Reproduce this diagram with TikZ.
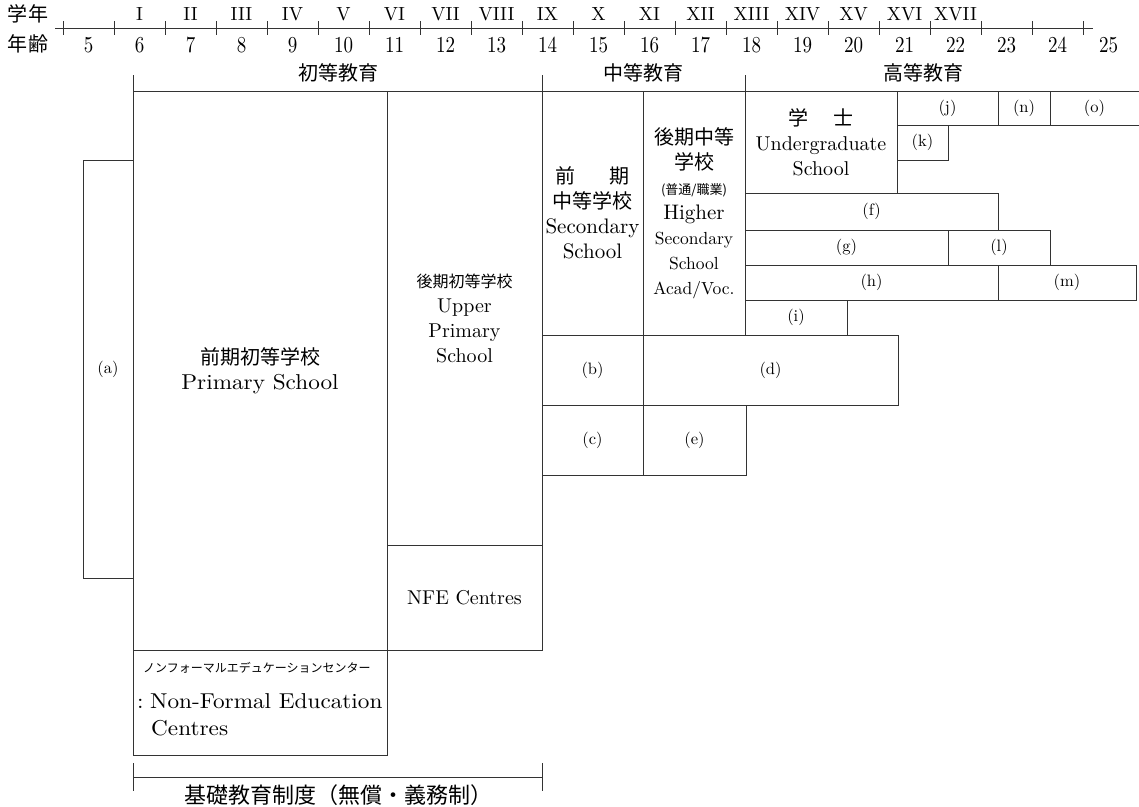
\documentclass[tikz,border=0pt]{standalone}
\usepackage{graphicx}
\usepackage{fontspec}
\setmainfont{lmroman10-regular.otf}[BoldFont=lmroman10-bold.otf,ItalicFont=lmroman10-italic.otf]
\newfontfamily\jp{Noto Sans CJK JP}
\newcommand\fsz[2]{\fontsize{#1}{#2}\selectfont}
\newcommand\tall[1]{\scalebox{1}[1.2]{#1}}
\newcommand\wide[1]{\scalebox{1.08}[1]{#1}}
\newcommand\cell[7]{%
  \draw[ln] (#2,#3) rectangle (#4,#5);
  \node[#6] (#1) at ({(#2+#4)/2},{(#3+#5)/2}) {#7};}
\begin{document}
\begin{tikzpicture}[x=1pt,y=-1pt,
  ln/.style={draw=black!80,line width=1pt},
  lbl/.style={inner sep=0pt,font=\fsz{16.5}{18}},
  txt/.style={inner sep=0pt,align=center,font=\fsz{20}{25}},
  ax/.style={inner sep=0pt,font=\fsz{19}{24}},
  jpl/.style={inner sep=0pt,font=\jp\fsz{20}{24}}]
\useasboundingbox (0,0) rectangle (1139,806);
\fill[white] (0,0) rectangle (1139,806);

% ---- axis ----
\node[jpl] (gakunen) at (28,14) {学年};
\node[jpl] (nenrei) at (28,44) {年齢};
\draw[ln] (55,28) -- (1093,28);
\foreach \k in {0,...,20} \draw[ln] ({63+51*\k},21) -- ({63+51*\k},35);
\foreach \a in {5,...,25} \node[ax] (age\a) at ({63+51*(\a-5)+25.5},45) {\tall{\a}};
\foreach \r [count=\i] in {I,II,III,IV,V,VI,VII,VIII,IX,X,XI,XII,XIII,XIV,XV,XVI,XVII}
  \node[ax] (yr\i) at ({63+51*\i+25.5},14) {\r};

% ---- level headings ----
\node[jpl] (h1) at (338,73) {初等教育};
\node[jpl] (h2) at (643,73) {中等教育};
\node[jpl] (h3) at (923,73) {高等教育};
\draw[ln] (133,91) -- (1139,91);
\draw[ln] (133,75) -- (133,91);
\draw[ln] (542,75) -- (542,91);
\draw[ln] (745,75) -- (745,91);

% ---- boxes ----
\cell{a}{83}{160}{133}{578}{lbl}{(a)}
\cell{ps}{133}{91}{387}{650}{txt}{{\jp 前期初等学校}\\{\fsz{21.5}{25}\wide{Primary School}}}
\cell{up}{387}{91}{542}{545}{txt}{{\jp\fsz{16}{25}後期初等学校}\\Upper\\Primary\\School}
\cell{nfe}{387}{545}{542}{650}{txt}{NFE Centres}
\draw[ln] (133,650) rectangle (387,755);
\cell{ls}{542}{91}{643}{335}{txt}{{\jp 前\hspace{1.75em}期}\\{\jp 中等学校}\\{\fsz{21}{25}Secondary}\\{\fsz{21}{25}School}}
\cell{hs}{643}{91}{745}{335}{txt}{{\jp 後期中等}\\{\jp 学校}\\{\jp\fsz{13}{14}(普通/職業)}\\{\fsz{21}{25}Higher}\\{\fsz{17.5}{25}Secondary}\\{\fsz{17.5}{25}School}\\{\fsz{17.5}{25}Acad/Voc.}}
\cell{ug}{745}{91}{897}{193}{txt}{{\jp 学\hspace{1.25em}士}\\Undergraduate\\School}
\cell{j}{897}{91}{998}{125}{lbl}{(j)}
\cell{n}{998}{91}{1050}{125}{lbl}{(n)}
\draw[ln] (1050,91) -- (1050,125) -- (1139,125);
\node[lbl] (o) at (1094.5,108) {(o)};
\cell{k}{897}{125}{948}{160}{lbl}{(k)}
\cell{f}{745}{193}{998}{230}{lbl}{(f)}
\cell{g}{745}{230}{948}{265}{lbl}{(g)}
\cell{l}{948}{230}{1050}{265}{lbl}{(l)}
\cell{h}{745}{265}{998}{300}{lbl}{(h)}
\cell{m}{998}{265}{1136}{300}{lbl}{(m)}
\cell{i}{745}{300}{847}{335}{lbl}{(i)}
\cell{b}{542}{335}{643}{405}{lbl}{(b)}
\cell{d}{643}{335}{898}{405}{lbl}{(d)}
\cell{c}{542}{405}{643}{475}{lbl}{(c)}
\cell{e}{643}{405}{746}{475}{lbl}{(e)}

% ---- non-formal text ----
\node[anchor=west,inner sep=0pt,font=\jp\fsz{12}{14}] (nfjp) at (143,668) {ノンフォーマルエデュケーションセンター};
\node[anchor=west,inner sep=0pt,font=\fsz{21.5}{25}] (nfen) at (137,701) {\wide{:\hspace{6pt}Non-Formal Education}};
\node[anchor=west,inner sep=0pt,font=\fsz{21.5}{25}] (nfc) at (151,728) {\wide{Centres}};

% ---- basic education bracket ----
\draw[ln] (133,763) -- (133,791);
\draw[ln] (542,763) -- (542,791);
\draw[ln] (133,777) -- (542,777);
\node[jpl,font=\jp\fsz{22}{26}] (basic) at (338,795) {基礎教育制度（無償・義務制）};
\end{tikzpicture}
\end{document}
